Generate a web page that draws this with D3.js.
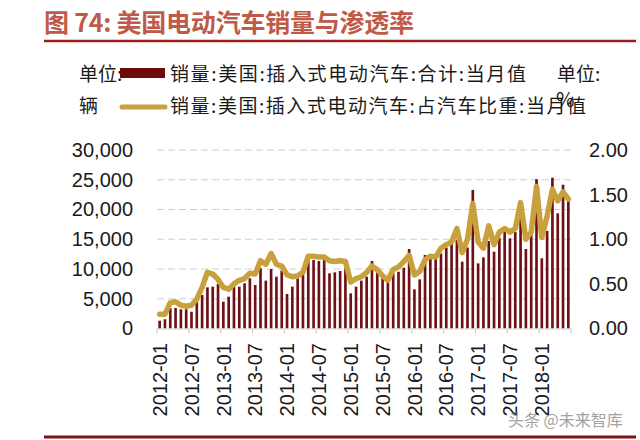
<!DOCTYPE html>
<html><head><meta charset="utf-8">
<script src="https://cdn.jsdelivr.net/npm/d3@7"></script>
<style>body{margin:0;background:#fff} svg{display:block}</style>
</head><body><svg id="c" width="640" height="440"></svg>
<script>
const months = ["2012-01","2012-02","2012-03","2012-04","2012-05","2012-06","2012-07","2012-08","2012-09","2012-10","2012-11","2012-12",
"2013-01","2013-02","2013-03","2013-04","2013-05","2013-06","2013-07","2013-08","2013-09","2013-10","2013-11","2013-12",
"2014-01","2014-02","2014-03","2014-04","2014-05","2014-06","2014-07","2014-08","2014-09","2014-10","2014-11","2014-12",
"2015-01","2015-02","2015-03","2015-04","2015-05","2015-06","2015-07","2015-08","2015-09","2015-10","2015-11","2015-12",
"2016-01","2016-02","2016-03","2016-04","2016-05","2016-06","2016-07","2016-08","2016-09","2016-10","2016-11","2016-12",
"2017-01","2017-02","2017-03","2017-04","2017-05","2017-06","2017-07","2017-08","2017-09","2017-10","2017-11","2017-12",
"2018-01","2018-02","2018-03","2018-04","2018-05","2018-06"];
const sales = [1310,1550,3400,3450,3230,3230,2820,4500,5630,6920,7030,7480,
4500,5350,7030,7030,7590,8430,7310,10110,8040,10000,8710,9720,
5800,7030,8400,8990,12350,11510,11340,12350,9270,9440,9660,10110,
5910,7030,8040,8710,11340,9660,8820,8150,9270,9550,10220,13360,
6580,8260,12350,11790,11960,12600,13600,14310,14870,11230,13600,23300,
10950,11950,14700,12900,15200,16270,15150,16200,21300,13360,16500,25100,
11800,16400,25350,19360,24170,21700];
const share = [0.16,0.16,0.29,0.30,0.26,0.25,0.26,0.33,0.46,0.63,0.61,0.55,
0.46,0.44,0.50,0.54,0.56,0.62,0.61,0.76,0.72,0.84,0.72,0.70,
0.60,0.58,0.59,0.63,0.81,0.81,0.80,0.80,0.76,0.75,0.76,0.75,
0.52,0.56,0.58,0.63,0.70,0.66,0.59,0.54,0.66,0.69,0.75,0.82,
0.60,0.64,0.77,0.81,0.80,0.90,0.94,0.97,1.12,0.85,1.00,1.40,
0.97,0.90,1.15,0.94,1.08,1.12,1.08,1.12,1.41,1.00,1.08,1.59,
1.02,1.26,1.56,1.43,1.53,1.45];
const tickLabels = ["2012-01","2012-07","2013-01","2013-07","2014-01","2014-07","2015-01","2015-07","2016-01","2016-07","2017-01","2017-07","2018-01"];
const leftTicks = [0,5000,10000,15000,20000,25000,30000];
const rightTicks = [0,0.5,1,1.5,2];
const title = "图 74:  美国电动汽车销量与渗透率";
const legendBar = "销量:美国:插入式电动汽车:合计:当月值";
const legendLine = "销量:美国:插入式电动汽车:占汽车比重:当月值";

const svg = d3.select("#c");
const L = 157, R = 571, T = 150, B = 328.5;
const x = d3.scaleBand().domain(months).range([L, R]).paddingInner(0.5).paddingOuter(0.25);
const yL = d3.scaleLinear().domain([0, 30000]).range([B, T]);
const yR = d3.scaleLinear().domain([0, 2]).range([B, T]);
const step = x.step();
const cx = m => x(m) + x.bandwidth() / 2;
const numFont = "'Liberation Sans', Arial, sans-serif";
const cjkFont = "'Noto Sans CJK SC', sans-serif";

// Title and rules
svg.append("text").attr("x", 44).attr("y", 32).attr("font-family", cjkFont)
  .attr("font-size", 25).attr("font-weight", "bold").attr("fill", "#c05a48")
  .attr("textLength", 370).attr("lengthAdjust", "spacing").text(title);
svg.append("line").attr("x1", 44).attr("x2", 636).attr("y1", 41).attr("y2", 41)
  .attr("stroke", "#9a2020").attr("stroke-width", 2.5);
svg.append("line").attr("x1", 44).attr("x2", 636).attr("y1", 437).attr("y2", 437)
  .attr("stroke", "#7a1616").attr("stroke-width", 3);

// Gridlines
svg.append("g").selectAll("line").data(leftTicks.filter(d => d > 0)).join("line")
  .attr("x1", L).attr("x2", R).attr("y1", d => yL(d)).attr("y2", d => yL(d))
  .attr("stroke", "#d0d0d0").attr("stroke-width", 1.2).attr("stroke-dasharray", "7,4");

// Left axis
const gl = svg.append("g").attr("transform", `translate(${L - 24},0)`)
  .call(d3.axisLeft(yL).tickValues(leftTicks).tickFormat(d3.format(",")).tickSize(0).tickPadding(0));
gl.select(".domain").remove();
gl.selectAll("text").attr("font-family", numFont).attr("font-size", 20).attr("fill", "#1a1a1a");

// Right axis
const gr = svg.append("g").attr("transform", `translate(${R + 18},0)`)
  .call(d3.axisRight(yR).tickValues(rightTicks).tickFormat(d3.format(".2f")).tickSize(0).tickPadding(0));
gr.select(".domain").remove();
gr.selectAll("text").attr("font-family", numFont).attr("font-size", 20).attr("fill", "#1a1a1a");

// Bars
svg.append("g").selectAll("rect").data(months).join("rect")
  .attr("x", m => x(m)).attr("width", x.bandwidth())
  .attr("y", (m, i) => yL(sales[i])).attr("height", (m, i) => B - yL(sales[i]))
  .attr("fill", "#6e1016");

// X axis baseline and ticks
svg.append("line").attr("x1", L).attr("x2", R).attr("y1", B + 0.5).attr("y2", B + 0.5)
  .attr("stroke", "#d6d6d6").attr("stroke-width", 1);
const tickPos = tickLabels.map(m => x(m) - step * 0.25).concat([R]);
svg.append("g").selectAll("line").data(tickPos).join("line")
  .attr("x1", d => d).attr("x2", d => d).attr("y1", B).attr("y2", B + 5)
  .attr("stroke", "#cfcfcf").attr("stroke-width", 1.2);
svg.append("g").selectAll("text").data(tickLabels).join("text")
  .attr("transform", m => `translate(${cx(m)},343) rotate(-90)`)
  .attr("text-anchor", "end").attr("dy", "0.36em")
  .attr("font-family", numFont).attr("font-size", 20).attr("fill", "#1a1a1a")
  .text(m => m);

// Line
const line = d3.line().x((d, i) => cx(months[i])).y(d => yR(d));
svg.append("path").datum(share).attr("d", line).attr("fill", "none")
  .attr("stroke", "#c9a13c").attr("stroke-width", 5.5)
  .attr("stroke-linejoin", "round").attr("stroke-linecap", "round");

// Legend
const lg = svg.append("g").attr("font-family", cjkFont).attr("font-size", 19).attr("fill", "#1a1a1a");
lg.append("text").attr("x", 79).attr("y", 81).text("单位:");
lg.append("text").attr("x", 79).attr("y", 113).text("辆");
lg.append("text").attr("x", 557).attr("y", 81).text("单位:");
lg.append("rect").attr("x", 120).attr("y", 68).attr("width", 45).attr("height", 10).attr("fill", "#6e0a0a");
lg.append("line").attr("x1", 122).attr("x2", 165).attr("y1", 107).attr("y2", 107)
  .attr("stroke", "#c9a13c").attr("stroke-width", 5).attr("stroke-linecap", "round");
lg.append("text").attr("x", 170).attr("y", 81).attr("textLength", 356).attr("lengthAdjust", "spacing").text(legendBar);
lg.append("text").attr("x", 170).attr("y", 113).attr("textLength", 416).attr("lengthAdjust", "spacing").text(legendLine);
lg.append("text").attr("x", 556).attr("y", 107).attr("font-size", 20).text("%");

// Watermark
svg.append("text").attr("x", 508).attr("y", 426).attr("font-family", cjkFont)
  .attr("font-size", 16).attr("fill", "#9a9a9a").attr("opacity", 0.9).text("头条 @未来智库");
</script></body></html>
